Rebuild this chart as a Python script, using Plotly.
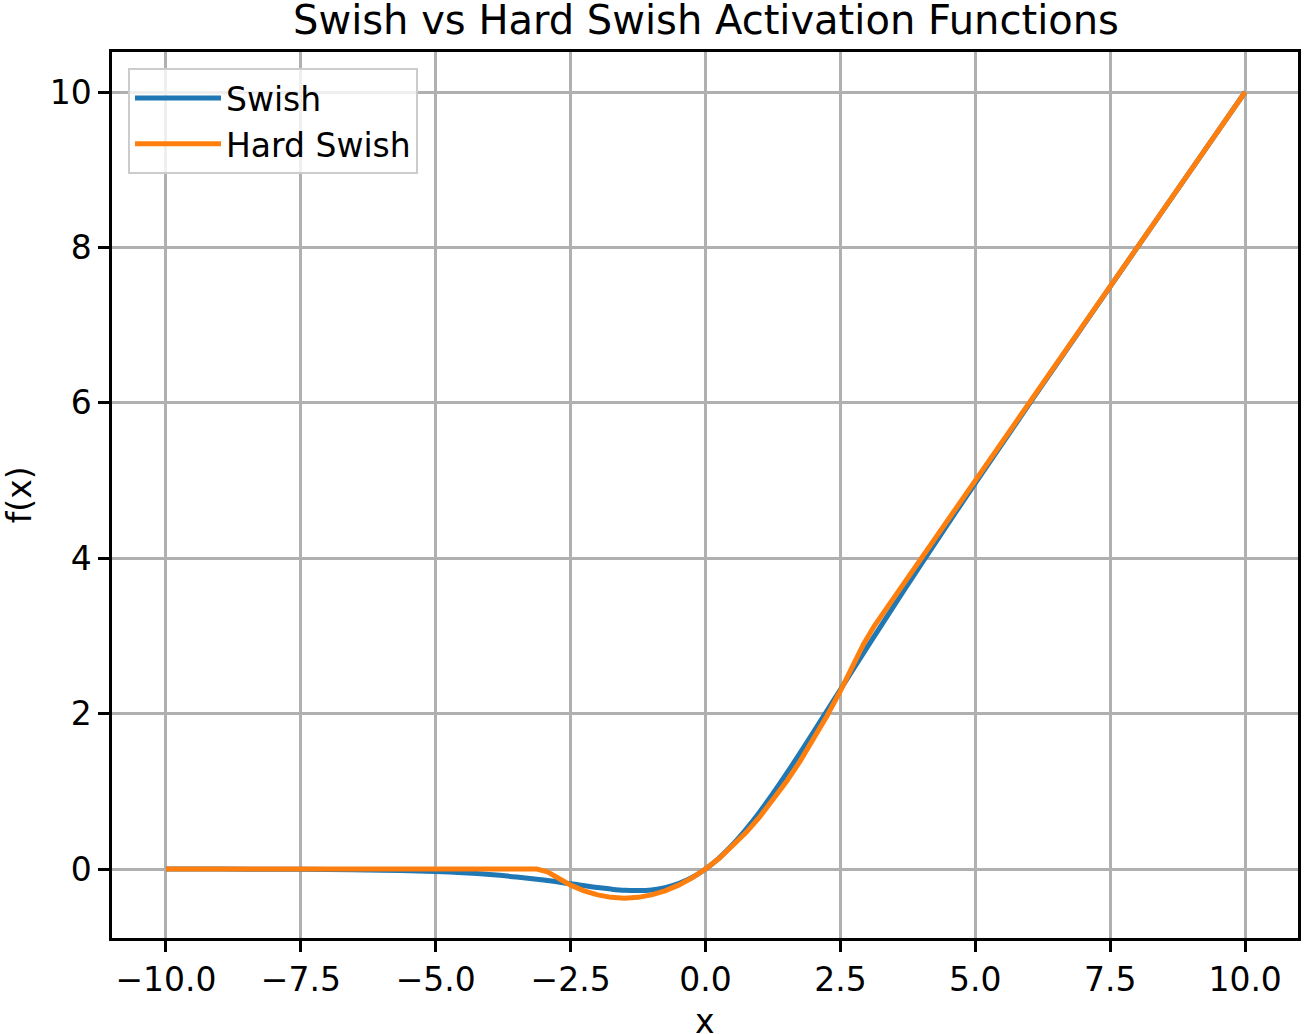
import plotly.graph_objects as go

# values
swish_x = [-10, -9, -8, -7, -6, -5, -4.5, -4, -3.5, -3, -2.5, -2, -1.75, -1.5,
           -1.25, -1, -0.75, -0.5, -0.25, 0, 0.25, 0.5, 0.75, 1, 1.25, 1.5,
           1.75, 2, 2.5, 3, 3.5, 4, 5, 6, 7, 8, 9, 10]
swish_y = [-0.0005, -0.0011, -0.0027, -0.0064, -0.0148, -0.0335, -0.0494,
           -0.0719, -0.103, -0.1423, -0.1896, -0.2384, -0.2586, -0.2736,
           -0.278, -0.2689, -0.24, -0.1888, -0.1097, 0.0, 0.1403, 0.3112,
           0.51, 0.7311, 0.972, 1.2264, 1.4914, 1.7616, 2.3105, 2.8577,
           3.3964, 3.9281, 4.9665, 5.9852, 6.9936, 7.9973, 8.9989, 9.9995]

hard_x = [-10, -3.13, -2.93, -2.75, -2.5, -2.25, -2, -1.75, -1.5, -1.25, -1,
          -0.75, -0.5, -0.25, 0, 0.25, 0.5, 0.75, 1, 1.25, 1.5, 1.75, 2,
          2.25, 2.5, 2.75, 2.93, 3.13, 10]
hard_y = [0.0, 0.0, -0.035, -0.115, -0.208, -0.281, -0.333, -0.365, -0.375,
          -0.365, -0.333, -0.281, -0.208, -0.115, 0.0, 0.135, 0.292, 0.469,
          0.667, 0.885, 1.125, 1.385, 1.667, 1.969, 2.292, 2.635, 2.896,
          3.13, 10.0]

x_ticks = [-10, -7.5, -5, -2.5, 0, 2.5, 5, 7.5, 10]
x_labels = ["\u221210.0", "\u22127.5", "\u22125.0", "\u22122.5", "0.0",
            "2.5", "5.0", "7.5", "10.0"]
y_ticks = [0, 2, 4, 6, 8, 10]

font = "DejaVu Sans, sans-serif"
W, H = 1304, 1034

fig = go.Figure()
fig.add_trace(go.Scatter(x=swish_x, y=swish_y, mode="lines", name="Swish",
                         line=dict(color="#1f77b4", width=5, shape="spline")))
fig.add_trace(go.Scatter(x=hard_x, y=hard_y, mode="lines", name="Hard Swish",
                         line=dict(color="#ff7f0e", width=5)))

axis_common = dict(
    showline=True, mirror=True, linecolor="black", linewidth=2.5,
    ticks="outside", ticklen=11, tickwidth=2.5, tickcolor="black",
    showgrid=True, gridcolor="#b0b0b0", gridwidth=2.5, zeroline=False,
    tickfont=dict(family=font, size=33, color="black"),
)

fig.update_layout(
    width=W, height=H,
    margin=dict(l=112, r=3, t=52, b=96),
    paper_bgcolor="white", plot_bgcolor="white",
    title=dict(text="Swish vs Hard Swish Activation Functions",
               x=706 / W, xanchor="center", y=1 - 20 / H, yanchor="middle",
               font=dict(family=font, size=40, color="black")),
    xaxis=dict(range=[-11.0, 10.98], tickvals=x_ticks, ticktext=x_labels,
               **axis_common),
    yaxis=dict(range=[-0.888, 10.515], tickvals=y_ticks, **axis_common),
    legend=dict(x=0.0135, y=0.982, xanchor="left", yanchor="top",
                itemwidth=86,
                bgcolor="rgba(255,255,255,0.8)", bordercolor="#cccccc",
                borderwidth=2, font=dict(family=font, size=33, color="black")),
    annotations=[
        dict(text="x", xref="paper", yref="paper", x=0.5, y=-0.094,
             xanchor="center", yanchor="middle", showarrow=False,
             font=dict(family=font, size=33, color="black")),
        dict(text="f(x)", xref="paper", yref="paper", x=-0.0782, y=0.5,
             xanchor="center", yanchor="middle", textangle=-90,
             showarrow=False, font=dict(family=font, size=33, color="black")),
    ],
)

fig.write_html("out.html", config={"displayModeBar": False},
               post_script="document.body.style.margin='0';")
